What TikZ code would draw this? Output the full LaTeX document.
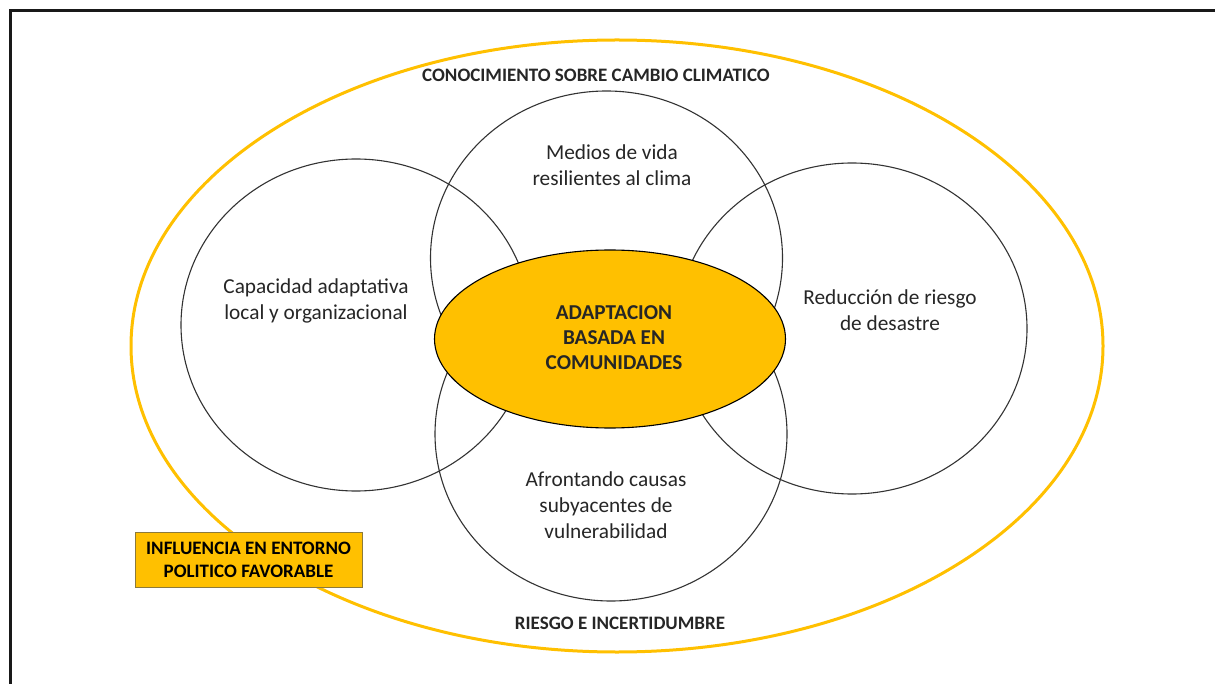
\documentclass[tikz,border=0pt]{standalone}
\usepackage{fontspec}
\setmainfont{Carlito}
\usetikzlibrary{shapes.geometric}
\definecolor{gold}{HTML}{FFC000}
\definecolor{boxedge}{HTML}{8C7A3A}
\definecolor{txt}{HTML}{262626}
\tikzset{
  ring/.style={ellipse, draw=black!80, line width=1.1pt, inner sep=0pt},
  plain/.style={align=center, text=txt, font=\fontsize{21.3}{26}\selectfont},
  caps/.style={align=center, text=txt, font=\bfseries\fontsize{19}{23}\selectfont},
}
\begin{document}
\begin{tikzpicture}[x=1pt,y=-1pt]
\useasboundingbox (0,0) rectangle (1215,684);
\fill[white] (0,0) rectangle (1215,684);
% frame
\coordinate (fb) at (10,684);
\coordinate (fc) at (10,11);
\coordinate (fr) at (1215,11);
\draw[line width=3pt, black!90] (fb) -- (fc) -- (fr);
% outer ellipse
\node[ellipse, draw=gold, line width=3pt, inner sep=0pt, minimum width=972pt, minimum height=612pt] (outer) at (617,346) {};
% four circles
\node[ring, minimum width=352pt, minimum height=334pt] (top) at (606.5,258) {};
\node[ring, minimum width=350pt, minimum height=332pt] (left) at (356,325) {};
\node[ring, minimum width=350pt, minimum height=331pt] (right) at (852,328.5) {};
\node[ring, minimum width=352pt, minimum height=334pt] (bottom) at (611,434) {};
% centre ellipse
\node[ellipse, draw=black, line width=1.1pt, fill=gold, inner sep=0pt, minimum width=351pt, minimum height=178pt] (core) at (610,339) {};
\node[caps, font=\bfseries\fontsize{21.2}{25}\selectfont] (coretext) at (614,338) {ADAPTACION\\BASADA EN\\COMUNIDADES};
% labels
\node[plain] (ttop) at (612,165) {Medios de vida\\resilientes al clima};
\node[plain] (tleft) at (316,301) {Capacidad adaptativa\\local y organizacional};
\node[plain] (tright) at (890,310) {Reducción de riesgo\\de desastre};
\node[plain] (tbottom) at (606,505) {Afrontando causas\\subyacentes de\\vulnerabilidad};
\node[caps] (know) at (596,75) {CONOCIMIENTO SOBRE CAMBIO CLIMATICO};
\node[caps] (risk) at (620,623) {RIESGO E INCERTIDUMBRE};
% box
\node[draw=boxedge, line width=1pt, fill=gold, minimum width=227pt, minimum height=55pt, inner sep=0pt, caps, text=black] (policy) at (248.5,559.5) {INFLUENCIA EN ENTORNO\\POLITICO FAVORABLE};
\end{tikzpicture}
\end{document}
